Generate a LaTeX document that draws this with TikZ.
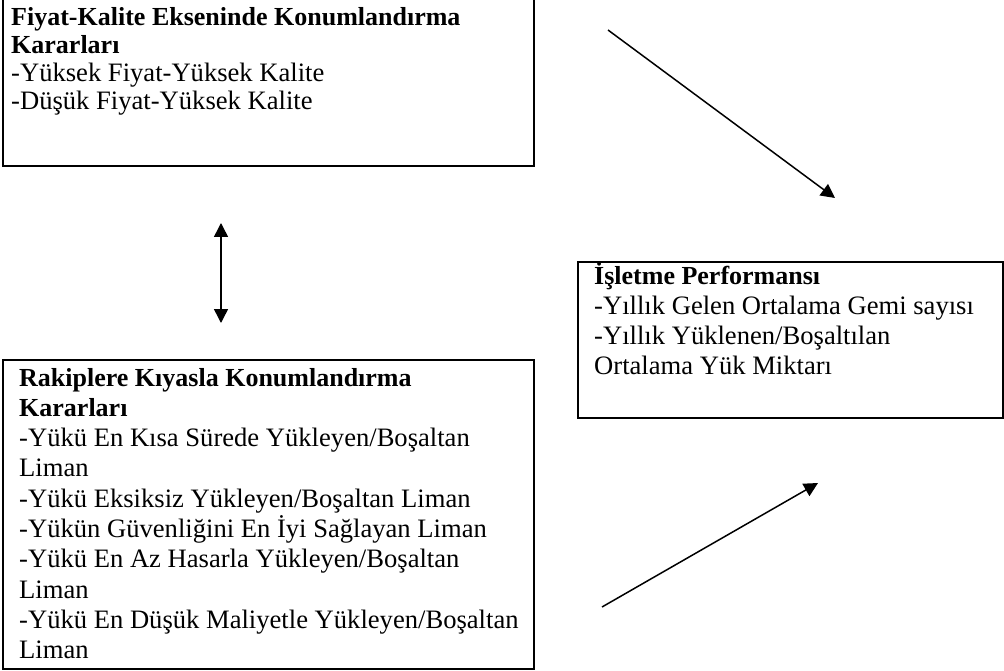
\documentclass[tikz,border=0pt]{standalone}
\usepackage{fontspec}
\setmainfont{Liberation Serif}
\usetikzlibrary{arrows.meta}
\newcommand{\hd}[1]{{\fontsize{26}{30}\selectfont\bfseries #1}}
\tikzset{
  boxframe/.style={draw=black, line width=2pt, inner sep=0pt},
  boxtext/.style={anchor=base west, inner sep=0pt},
  conn/.style={draw=black, line width=1.5pt, -{Triangle[length=14pt,width=14pt]}},
  dconn/.style={draw=black, line width=1.5pt, {Triangle[length=14pt,width=14pt]}-{Triangle[length=14pt,width=14pt]}}
}
\begin{document}
\begin{tikzpicture}[x=1pt,y=-1pt]
\useasboundingbox (0,0) rectangle (1004,671);
\clip (0,0) rectangle (1004,671);
% boxes
\node[boxframe, minimum width=531pt, minimum height=175pt, anchor=north west] (fk) at (2,-10) {};
\node[boxframe, minimum width=425pt, minimum height=156pt, anchor=north west] (ip) at (577,261) {};
\node[boxframe, minimum width=531pt, minimum height=309pt, anchor=north west] (rk) at (2,359) {};
% texts
\node[boxtext] (fkt) at (11,26) {\parbox[t]{515pt}{\fontsize{26.6}{28}\selectfont\hd{Fiyat-Kalite Ekseninde Konumlandırma}\\\hd{Kararları}\\-Yüksek Fiyat-Yüksek Kalite\\-Düşük Fiyat-Yüksek Kalite}};
\node[boxtext] (ipt) at (594,284) {\parbox[t]{405pt}{\fontsize{26.6}{30}\selectfont\hd{İşletme Performansı}\\-Yıllık Gelen Ortalama Gemi sayısı\\-Yıllık Yüklenen/Boşaltılan\\Ortalama Yük Miktarı}};
\node[boxtext] (rkt) at (19,386) {\parbox[t]{512pt}{\fontsize{26.6}{30.3}\selectfont\hd{Rakiplere Kıyasla Konumlandırma}\\\hd{Kararları}\\-Yükü En Kısa Sürede Yükleyen/Boşaltan\\Liman\\-Yükü Eksiksiz Yükleyen/Boşaltan Liman\\-Yükün Güvenliğini En İyi Sağlayan Liman\\-Yükü En Az Hasarla Yükleyen/Boşaltan\\Liman\\-Yükü En Düşük Maliyetle Yükleyen/Boşaltan\\Liman}};
% arrow end points
\coordinate (d1) at (221,223);
\coordinate (d2) at (221,323);
\coordinate (a1s) at (608,30);
\coordinate (a1e) at (835,198);
\coordinate (a2s) at (602,607);
\coordinate (a2e) at (818,483);
\draw[dconn] (d1) -- (d2);
\draw[conn] (a1s) -- (a1e);
\draw[conn] (a2s) -- (a2e);
\end{tikzpicture}
\end{document}
